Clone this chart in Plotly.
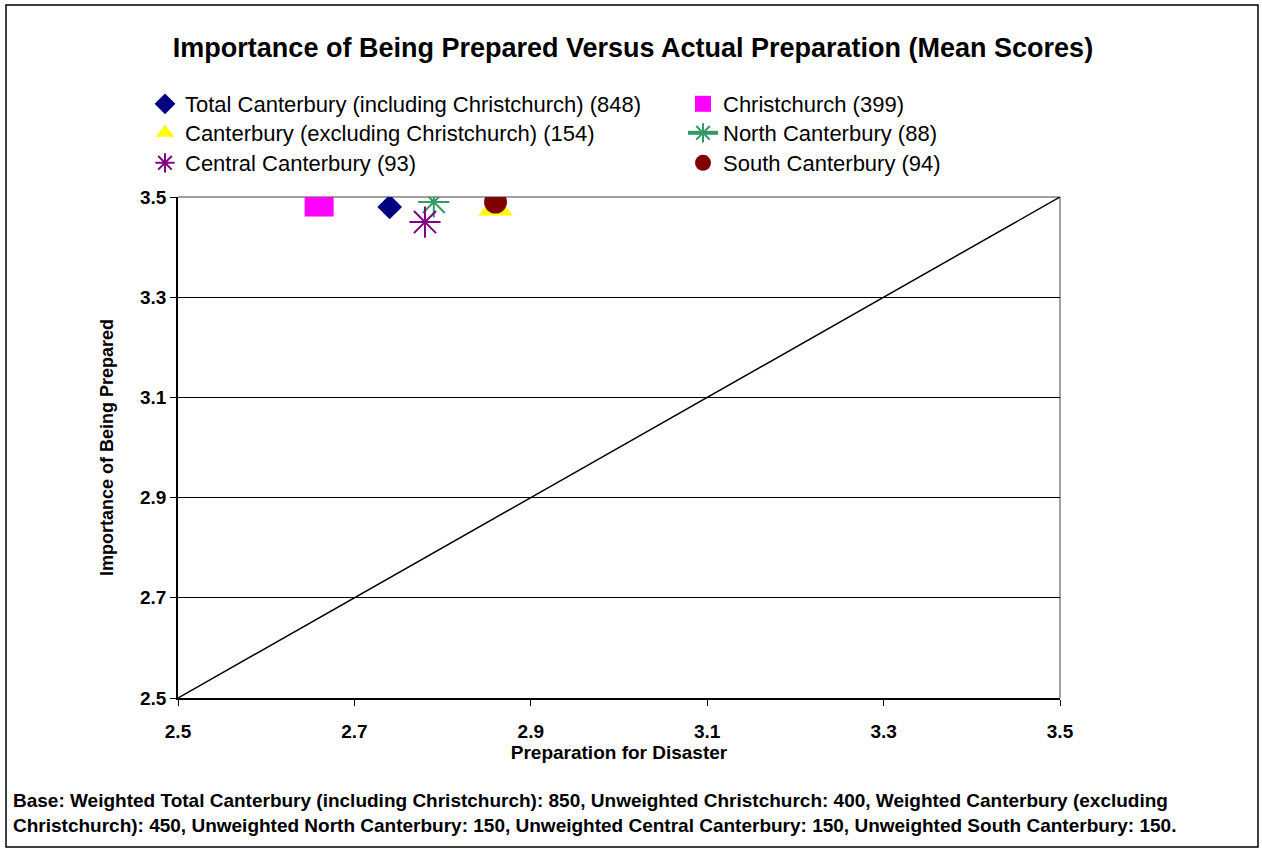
import plotly.graph_objects as go

# ---- data ----
series_names = [
    "Total Canterbury (including Christchurch) (848)",
    "Christchurch (399)",
    "Canterbury (excluding Christchurch) (154)",
    "North Canterbury (88)",
    "Central Canterbury (93)",
    "South Canterbury (94)",
]
preparation = [2.74, 2.66, 2.86, 2.79, 2.78, 2.86]
importance = [3.48, 3.49, 3.478, 3.49, 3.45, 3.49]
diag_x = [2.5, 3.5]
diag_y = [2.5, 3.5]
tick_vals = [2.5, 2.7, 2.9, 3.1, 3.3, 3.5]

FONT = "Liberation Sans, Arial, sans-serif"

W, H = 1262, 848
L, R, T, B = 178, 1060, 197, 698


def px_x(p):
    return (p - L) / (R - L)


def px_y(p):
    return (B - p) / (B - T)


styles = [
    dict(symbol="diamond", color="#000080", size=19, line=dict(width=0)),
    dict(symbol="square", color="#FF00FF", size=29, line=dict(width=0)),
    dict(symbol="triangle-up", color="#FFFF00", size=30, line=dict(width=0)),
    dict(symbol="asterisk-open", color="#339966", size=26, line=dict(width=2, color="#339966")),
    dict(symbol="asterisk-open", color="#800080", size=26, line=dict(width=2, color="#800080")),
    dict(symbol="circle", color="#800000", size=23, line=dict(width=0)),
]
# legend slot for every series: (text left x, row centre y) in pixels
legend_x = [145, 683, 145, 683, 145, 683]
legend_y = [104, 104, 133, 133, 163, 163]
draw_order = [2, 0, 1, 3, 4, 5]

fig = go.Figure()

fig.add_trace(go.Scatter(
    x=diag_x, y=diag_y, mode="lines", line=dict(color="black", width=1.5),
    showlegend=False, hoverinfo="skip"))

for i in draw_order:
    mode = "lines+markers" if i == 3 else "markers"
    lid = "legend" if i == 0 else f"legend{i + 1}"
    fig.add_trace(go.Scatter(
        x=[preparation[i]], y=[importance[i]], mode=mode,
        name=series_names[i], marker=styles[i],
        line=dict(color="#339966", width=4),
        legend=lid))

legends = {}
for i in range(len(series_names)):
    lid = "legend" if i == 0 else f"legend{i + 1}"
    legends[lid] = dict(
        orientation="h", font=dict(family=FONT, size=22, color="black"),
        itemsizing="trace", bgcolor="rgba(0,0,0,0)",
        x=px_x(legend_x[i]), xanchor="left", y=px_y(legend_y[i]), yanchor="middle")

fig.update_layout(
    width=W, height=H,
    margin=dict(l=L, r=W - R, t=T, b=H - B),
    paper_bgcolor="white", plot_bgcolor="white",
    title=dict(text="<b>Importance of Being Prepared Versus Actual Preparation (Mean Scores)</b>",
               x=px_x(633), xref="paper", xanchor="center",
               y=1 - 48 / H, yanchor="middle",
               font=dict(family=FONT, size=27, color="black")),
    xaxis=dict(range=[2.5, 3.5], tickvals=tick_vals, ticktext=[f"<b>{v:.1f}</b>" for v in tick_vals],
               showgrid=False, zeroline=False, showline=True, linecolor="black", linewidth=1.5,
               ticks="outside", ticklen=6, tickcolor="black", ticklabelstandoff=9,
               tickfont=dict(family=FONT, size=19, color="black"),
               title=dict(text="<b>Preparation for Disaster</b>", standoff=2,
                          font=dict(family=FONT, size=19, color="black"))),
    yaxis=dict(range=[2.5, 3.5], tickvals=tick_vals, ticktext=[f"<b>{v:.1f}</b>" for v in tick_vals],
               showgrid=True, gridcolor="black", gridwidth=1, zeroline=False,
               showline=True, linecolor="black", linewidth=1.5,
               ticks="outside", ticklen=6, tickcolor="black",
               tickfont=dict(family=FONT, size=19, color="black"),
               title=dict(text="<b>Importance of Being Prepared</b>", standoff=22,
                          font=dict(family=FONT, size=18, color="black"))),
    showlegend=True,
    **legends,
)

# plot-area top/right border in grey
fig.add_shape(type="line", xref="paper", yref="paper", x0=0, x1=1, y0=1, y1=1,
              line=dict(color="#808080", width=1.5), layer="below")
fig.add_shape(type="line", xref="paper", yref="paper", x0=1, x1=1, y0=0, y1=1,
              line=dict(color="#808080", width=1.5), layer="below")
# outer chart frame
fig.add_shape(type="rect", xref="paper", yref="paper",
              x0=px_x(6), x1=px_x(1258), y0=px_y(5), y1=px_y(847),
              line=dict(color="black", width=1.5))

fig.add_annotation(
    xref="paper", yref="paper", x=px_x(11), y=px_y(788), xanchor="left", yanchor="top",
    align="left", showarrow=False,
    text="<b>Base: Weighted Total Canterbury (including Christchurch): 850, Unweighted Christchurch: 400, Weighted Canterbury (excluding<br>"
         "Christchurch): 450, Unweighted North Canterbury: 150, Unweighted Central Canterbury: 150, Unweighted South Canterbury: 150.</b>",
    font=dict(family=FONT, size=19, color="black"))

fig.write_html("out.html", config={"displayModeBar": False},
               post_script="document.body.style.margin='0px';")
